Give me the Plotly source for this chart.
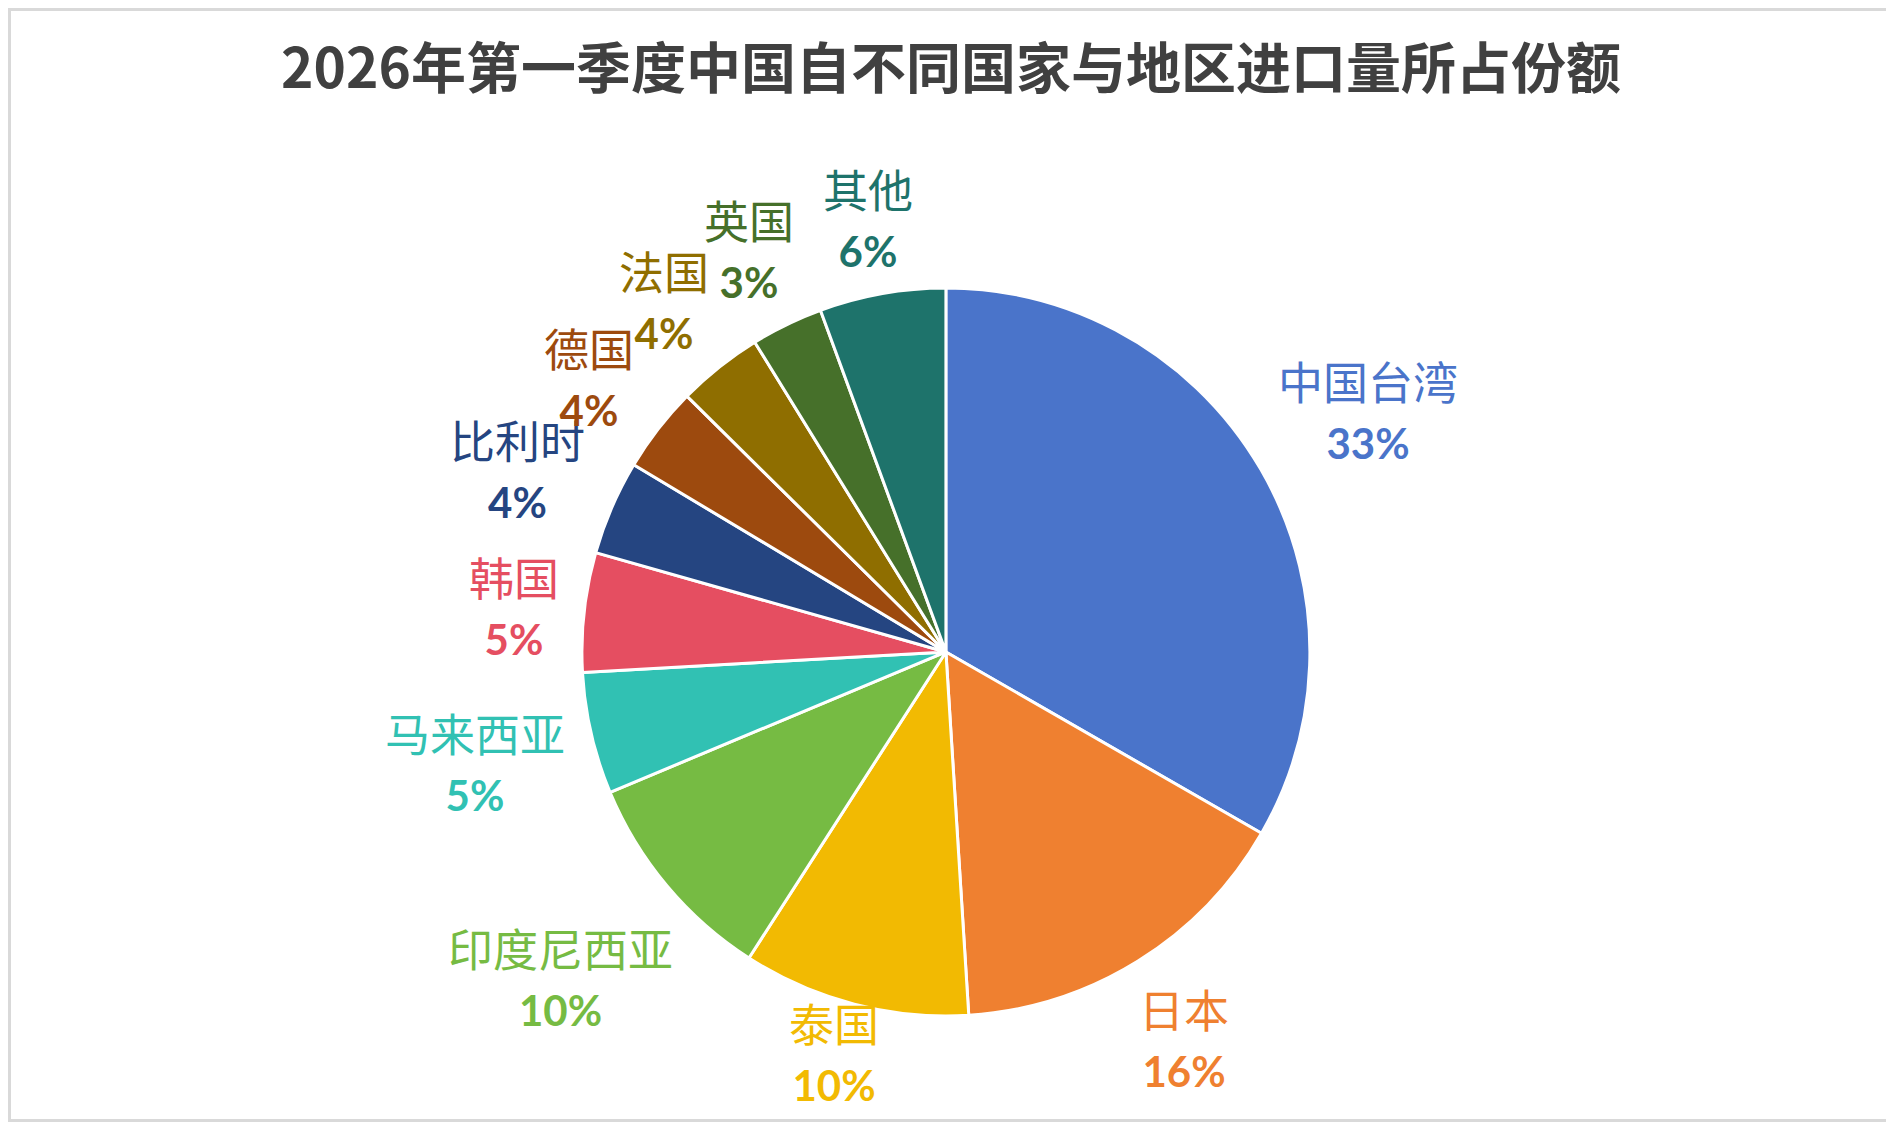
import math
import plotly.graph_objects as go

regions = ["中国台湾", "日本", "泰国", "印度尼西亚", "马来西亚", "韩国",
           "比利时", "德国", "法国", "英国", "其他"]
shares = [33.3, 15.7, 10.1, 9.6, 5.4, 5.3, 4.2, 3.8, 3.8, 3.2, 5.6]
pct_labels = ["33%", "16%", "10%", "10%", "5%", "5%", "4%", "4%", "4%", "3%", "6%"]
colors = ["#4A74CA", "#EF8030", "#F2BA02", "#76BB43", "#31C1B3", "#E54E61",
          "#254581", "#9D4A0E", "#8F6E00", "#46702A", "#1E736B"]
title_text = "2026年第一季度中国自不同国家与地区进口量所占份额"

# the page body adds an 8px margin, so the figure is sized to fit the window
W, H = 1886, 1114
DOM_X = [0.3043, 0.6903]
DOM_Y = [0.0952, 0.7487]
FS = 45          # label font size (names)
FS_PCT = 42      # label font size (percent)
GAP = 20         # gap between pie edge and label box
PAD = 20         # keep label boxes inside the canvas

fig = go.Figure()
fig.add_trace(go.Pie(
    labels=regions,
    values=shares,
    sort=False,
    direction="clockwise",
    rotation=0,
    marker=dict(colors=colors, line=dict(color="white", width=3)),
    textinfo="none",
    domain=dict(x=DOM_X, y=DOM_Y),
    showlegend=False,
    hoverinfo="label+percent",
))

# data labels placed just outside each slice, along the slice's mid angle
cx = (DOM_X[0] + DOM_X[1]) / 2 * W
cy = (1 - (DOM_Y[0] + DOM_Y[1]) / 2) * H
r = min((DOM_X[1] - DOM_X[0]) * W, (DOM_Y[1] - DOM_Y[0]) * H) / 2
total = sum(shares)
cum = 0.0
annotations = []
for name, v, p, c in zip(regions, shares, pct_labels, colors):
    theta = 2 * math.pi * (cum + v / 2) / total
    cum += v
    s, co = math.sin(theta), math.cos(theta)
    bw = max(len(name), 2) * FS
    bh = 2.3 * FS
    d = r + GAP + abs(s) * bw / 2 + abs(co) * bh / 2
    px = cx + d * s
    py = cy - d * co
    py = min(max(py, bh / 2 + PAD), H - bh / 2 - PAD)
    annotations.append(dict(
        x=px / W, y=1 - py / H, xref="paper", yref="paper",
        xanchor="center", yanchor="middle", showarrow=False,
        text=(name + "<br><span style='font-family:Lato, \"Open Sans\", sans-serif;"
              "font-size:" + str(FS_PCT) + "px'><b>" + p + "</b></span>"),
        font=dict(size=FS, color=c, family="Noto Sans CJK SC"),
        align="center",
    ))

fig.update_layout(
    width=W, height=H,
    margin=dict(l=0, r=0, t=0, b=0, pad=0, autoexpand=False),
    paper_bgcolor="white",
    plot_bgcolor="white",
    title=dict(text="<b>" + title_text + "</b>", x=0.5, xanchor="center",
               y=1 - 61 / H, yanchor="middle", yref="container",
               font=dict(size=55, color="#404040", family="Noto Sans CJK SC")),
    annotations=annotations,
    shapes=[dict(type="rect", xref="paper", yref="paper", x0=0, x1=1, y0=0, y1=1,
                 line=dict(color="#D9D9D9", width=6), fillcolor="rgba(0,0,0,0)")],
)

fig.write_html("out.html")
